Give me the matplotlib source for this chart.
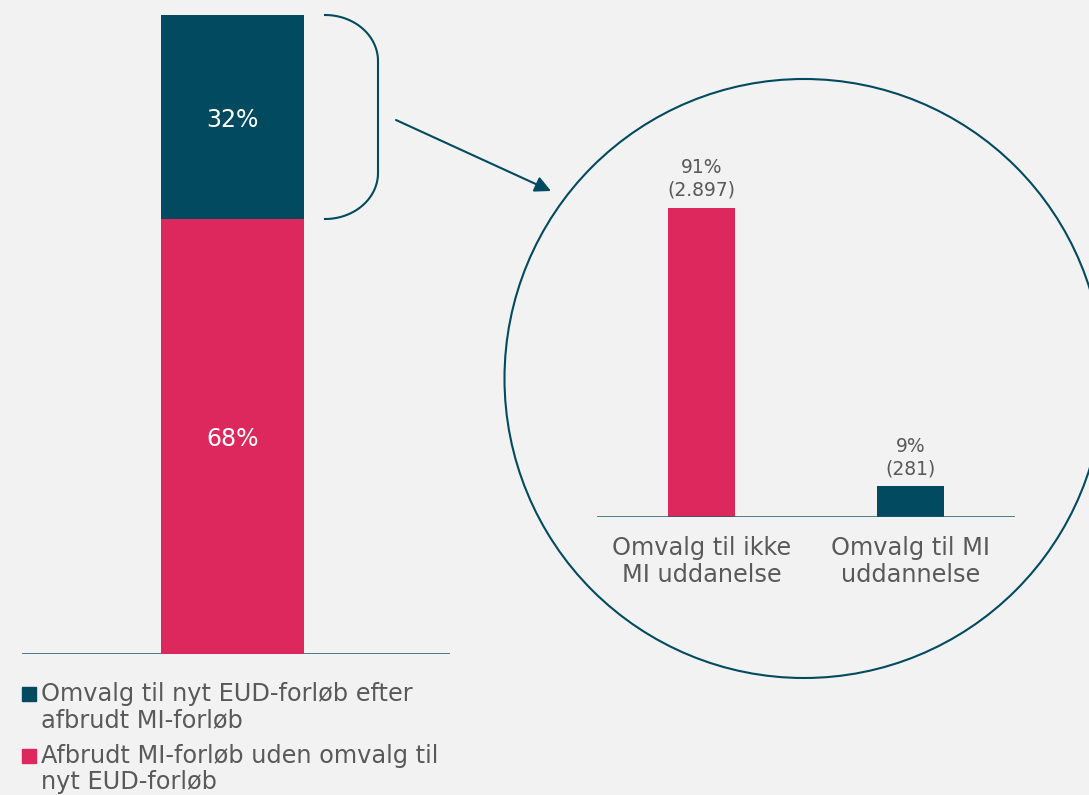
import matplotlib.pyplot as plt
import numpy as np
from matplotlib.patches import Circle, Rectangle

# data
stack_labels = ['Afbrudt MI-forløb uden omvalg til\nnyt EUD-forløb',
                'Omvalg til nyt EUD-forløb efter\nafbrudt MI-forløb']
stack_values = [68, 32]
detail_categories = ['Omvalg til ikke\nMI uddanelse', 'Omvalg til MI\nuddannelse']
detail_pct = [91, 9]
detail_counts = ['2.897', '281']

teal = '#024a5f'
pink = '#dc285c'
grey_txt = '#595959'
bg = '#f2f2f2'

plt.rcParams['font.family'] = ['DejaVu Sans']

W, H = 1089, 795
fig = plt.figure(figsize=(W / 100, H / 100), dpi=100, facecolor=bg)


def px_axes(x0, x1, ytop, ybot):
    return fig.add_axes([x0 / W, 1 - ybot / H, (x1 - x0) / W, (ybot - ytop) / H])


# left stacked bar
ax1 = px_axes(22, 450, 15, 654)
ax1.set_facecolor('none')
bottom = 0
colors_stack = [pink, teal]
for val, col in zip(stack_values, colors_stack):
    ax1.bar(0.4918, val, width=0.334, bottom=bottom, color=col)
    ax1.text(0.4918, bottom + val / 2 - 0.4, f'{val}%', ha='center', va='center',
             color='white', fontsize=17)
    bottom += val
ax1.set_xlim(0, 1)
ax1.set_ylim(0, 100)
ax1.axhline(0, color='#2f6677', lw=1.2, zorder=0)
ax1.axis('off')

# right detail bars
ax2 = px_axes(597, 1015, 177, 517)
ax2.set_facecolor('none')
x = np.arange(len(detail_categories))
ax2.bar(x, detail_pct, width=0.316, color=[pink, teal])
for xi, p, c in zip(x, detail_pct, detail_counts):
    ax2.text(xi, p + 2.4, f'{p}%\n({c})', ha='center', va='bottom',
             color=grey_txt, fontsize=13.5, linespacing=1.2)
    ax2.text(xi, -5.5, detail_categories[xi], ha='center', va='top',
             color=grey_txt, fontsize=17.3, linespacing=1.15)
ax2.set_xlim(-0.5, 1.5)
ax2.set_ylim(0, 100)
ax2.axhline(0, color='#1f5a6c', lw=1.8)
ax2.axis('off')

# overlay: bracket, arrow, circle, legend
ov = fig.add_axes([0, 0, 1, 1])
ov.set_xlim(0, W)
ov.set_ylim(H, 0)
ov.axis('off')
ov.set_facecolor('none')

t = np.linspace(0, np.pi / 2, 40)
rx, ry = 53, 46
top_x = 325 + rx * np.sin(t)
top_y = 15 + ry * (1 - np.cos(t))
bot_x = 325 + rx * np.cos(t)
bot_y = 219 - ry + ry * np.sin(t)
bx = np.concatenate([top_x, bot_x])
by = np.concatenate([top_y, bot_y])
ov.plot(bx, by, color=teal, lw=1.5)

ov.annotate('', xy=(551, 191), xytext=(396, 120),
            arrowprops=dict(arrowstyle='-|>', color=teal, lw=1.5,
                            mutation_scale=24, shrinkA=0, shrinkB=0))

ov.add_patch(Circle((804, 378.5), 299.5, fill=False, ec=teal, lw=1.5))

# legend (manual, square aligned with first line)
leg_y = [687, 749]
for yy, lab, col in zip(leg_y, stack_labels[::-1], colors_stack[::-1]):
    ov.add_patch(Rectangle((22, yy), 14, 14, color=col))
    ov.text(41, yy - 5, lab, ha='left', va='top', color=grey_txt,
            fontsize=17.3, linespacing=1.1)

fig.savefig('out.png', dpi=100, facecolor=bg)
